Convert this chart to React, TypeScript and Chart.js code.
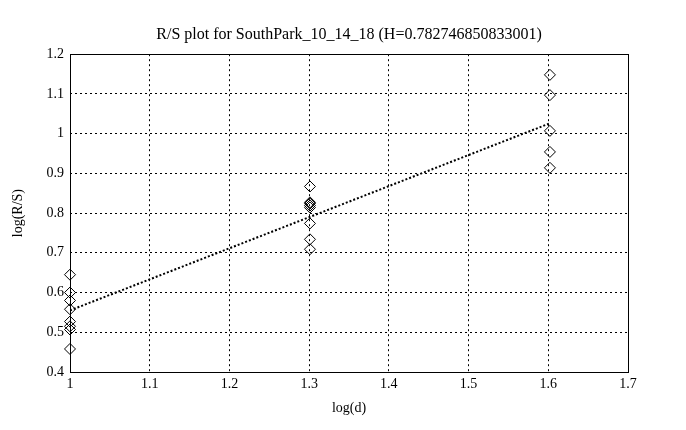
import React, { useEffect, useRef } from "react";
import { Chart, registerables } from "chart.js";
Chart.register(...registerables);

const xD1 = 1.0;
const xD2 = 1.30103;
const xD3 = 1.60206;
const group1: number[] = [0.645, 0.6, 0.58, 0.558, 0.527, 0.515, 0.507, 0.458];
const group2: number[] = [0.867, 0.827, 0.824, 0.819, 0.814, 0.774, 0.734, 0.709];
const group3: number[] = [1.148, 1.097, 1.007, 0.954, 0.914];
const fitX: number[] = [1.0, 1.60206];
const fitY: number[] = [0.555, 1.026];
const titleText = "R/S plot for SouthPark_10_14_18 (H=0.782746850833001)";
const xTicks: number[] = [1, 1.1, 1.2, 1.3, 1.4, 1.5, 1.6, 1.7];
const yTicks: number[] = [0.4, 0.5, 0.6, 0.7, 0.8, 0.9, 1.0, 1.1, 1.2];

const FONT = "'Liberation Serif', 'DejaVu Serif', serif";

const boxPlugin = {
  id: "box",
  afterDatasetsDraw(chart: any) {
    const { ctx, chartArea } = chart;
    ctx.save();
    ctx.strokeStyle = "#000";
    ctx.lineWidth = 1;
    ctx.setLineDash([]);
    ctx.strokeRect(
      Math.round(chartArea.left) + 0.5,
      Math.round(chartArea.top) + 0.5,
      Math.round(chartArea.right - chartArea.left),
      Math.round(chartArea.bottom - chartArea.top)
    );
    ctx.restore();
  },
};

export default function App() {
  const ref = useRef<HTMLCanvasElement>(null);
  useEffect(() => {
    document.body.style.margin = "0";
    const pts = [
      ...group1.map((y) => ({ x: xD1, y })),
      ...group2.map((y) => ({ x: xD2, y })),
      ...group3.map((y) => ({ x: xD3, y })),
    ];
    const chart = new Chart(ref.current!, {
      type: "scatter",
      data: {
        datasets: [
          {
            data: pts,
            pointStyle: "rectRot",
            pointRadius: 5.5,
            borderColor: "#000",
            backgroundColor: "rgba(0,0,0,0)",
            borderWidth: 1,
            showLine: false,
            clip: false,
          } as any,
          {
            data: fitX.map((x, i) => ({ x, y: fitY[i] })),
            showLine: true,
            pointRadius: 0,
            borderColor: "#000",
            borderWidth: 2,
            borderDash: [2, 2],
          } as any,
        ],
      },
      options: {
        responsive: false,
        animation: false,
        layout: { padding: { top: 0, right: 58, left: 0, bottom: 0 } },
        plugins: {
          legend: { display: false },
          tooltip: { enabled: false },
          title: {
            display: true,
            fullSize: false,
            text: titleText,
            color: "#000",
            font: { family: FONT, size: 16, weight: "normal" },
            padding: { top: 25, bottom: 10 },
          },
        },
        scales: {
          x: {
            type: "linear",
            min: 1,
            max: 1.7,
            afterBuildTicks: (s: any) => {
              s.ticks = xTicks.map((v) => ({ value: v }));
            },
            afterFit: (s: any) => {
              s.height = 58;
            },
            ticks: {
              color: "#000",
              font: { family: FONT, size: 14 },
              maxRotation: 0,
              padding: 4,
              callback: (v: any) => String(Math.round(Number(v) * 10) / 10),
            },
            grid: {
              color: "#000",
              lineWidth: 1,
              tickLength: 0,
              drawTicks: false,
            },
            border: { display: false, dash: [2, 3] },
            title: {
              display: true,
              text: "log(d)",
              color: "#000",
              font: { family: FONT, size: 14 },
              padding: { top: 2, bottom: 13 },
            },
          },
          y: {
            type: "linear",
            min: 0.4,
            max: 1.2,
            afterBuildTicks: (s: any) => {
              s.ticks = yTicks.map((v) => ({ value: v }));
            },
            afterFit: (s: any) => {
              s.width = 70;
            },
            ticks: {
              color: "#000",
              font: { family: FONT, size: 14 },
              padding: 6,
              callback: (v: any) => String(Math.round(Number(v) * 10) / 10),
            },
            grid: {
              color: "#000",
              lineWidth: 1,
              tickLength: 0,
              drawTicks: false,
            },
            border: { display: false, dash: [2, 3] },
            title: {
              display: true,
              text: "log(R/S)",
              color: "#000",
              font: { family: FONT, size: 14 },
              padding: { top: 10, bottom: 0 },
            },
          },
        },
      },
      plugins: [boxPlugin],
    });
    return () => chart.destroy();
  }, []);
  return (
    <div style={{ width: 686, height: 430, background: "#fff" }}>
      <canvas ref={ref} width={686} height={430} />
    </div>
  );
}
